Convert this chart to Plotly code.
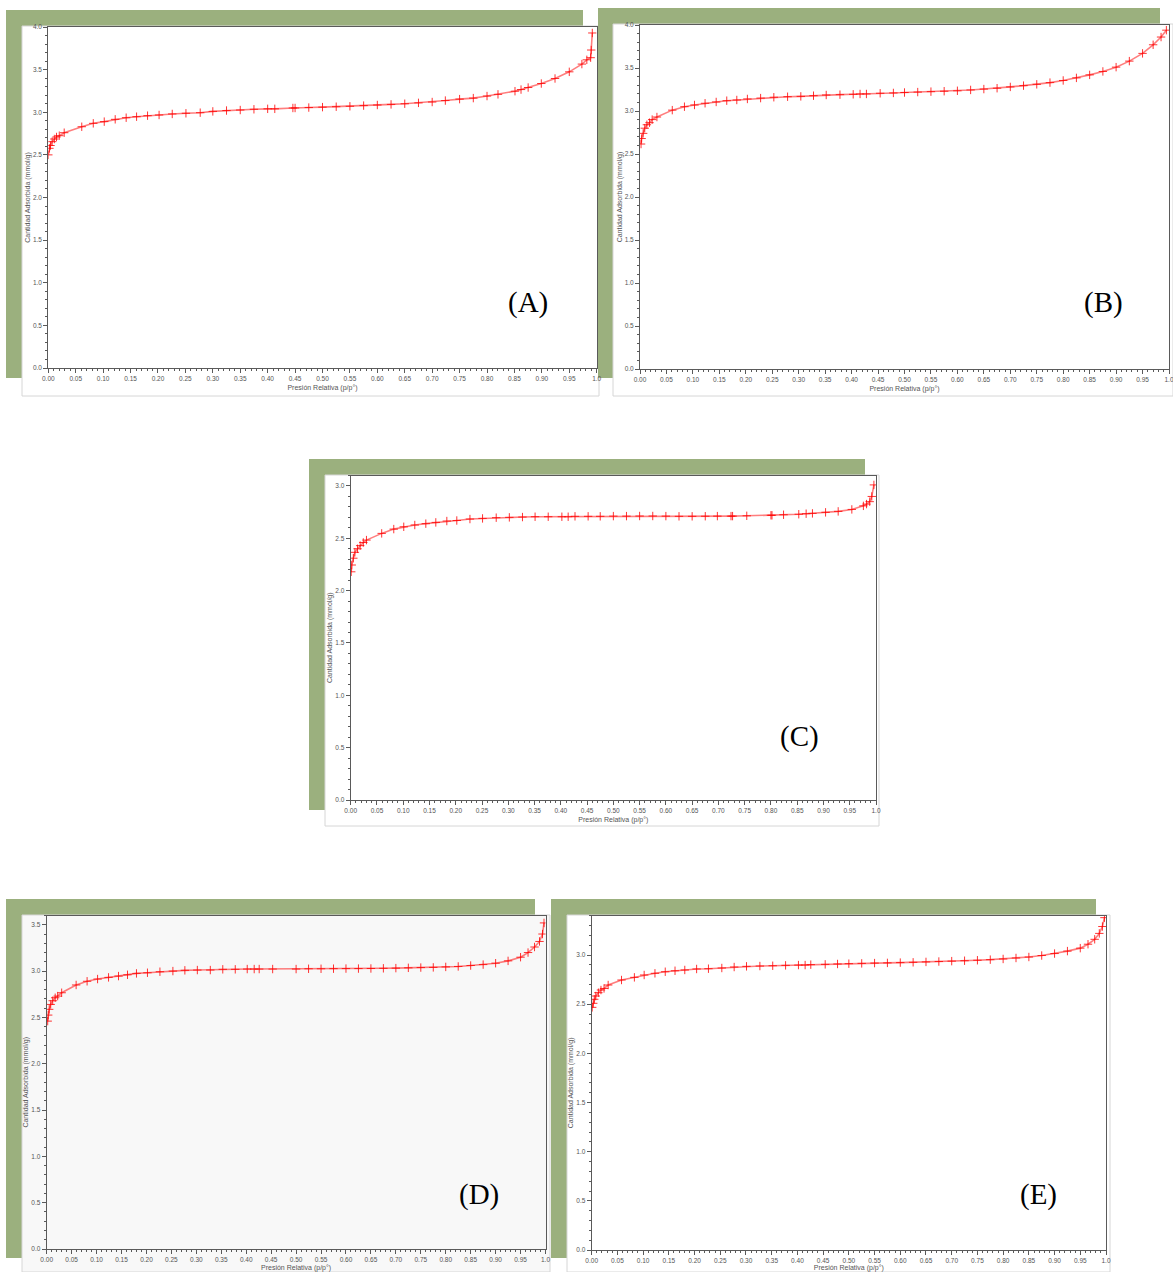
import plotly.graph_objects as go

# ---------------------------------------------------------------------------
# N2 adsorption isotherms, five samples (A)-(E)
# relative pressure p/p° and adsorbed quantity (mmol/g)
# ---------------------------------------------------------------------------
p_A = [0.000, 0.002, 0.004, 0.007, 0.011, 0.015, 0.020, 0.029, 0.061, 0.082,
       0.102, 0.122, 0.142, 0.161, 0.181, 0.202, 0.226, 0.251, 0.277, 0.300,
       0.325, 0.350, 0.375, 0.400, 0.413, 0.446, 0.450, 0.475, 0.500, 0.525,
       0.550, 0.575, 0.600, 0.625, 0.650, 0.675, 0.700, 0.724, 0.750, 0.775,
       0.800, 0.820, 0.851, 0.862, 0.875, 0.899, 0.924, 0.950, 0.973, 0.982,
       0.989, 0.990, 0.992]
q_A = [2.50, 2.577, 2.61, 2.655, 2.686, 2.71, 2.725, 2.76, 2.83, 2.87,
       2.89, 2.917, 2.936, 2.948, 2.96, 2.968, 2.98, 2.988, 2.995, 3.01,
       3.02, 3.026, 3.035, 3.04, 3.04, 3.05, 3.05, 3.055, 3.06, 3.065,
       3.07, 3.078, 3.085, 3.092, 3.10, 3.11, 3.12, 3.137, 3.154, 3.166,
       3.19, 3.21, 3.247, 3.266, 3.29, 3.337, 3.396, 3.474, 3.565, 3.615,
       3.64, 3.73, 3.93]

p_B = [0.002, 0.003, 0.006, 0.009, 0.013, 0.018, 0.023, 0.032, 0.061, 0.084,
       0.103, 0.123, 0.144, 0.164, 0.183, 0.203, 0.228, 0.253, 0.279, 0.304,
       0.328, 0.352, 0.378, 0.403, 0.416, 0.428, 0.454, 0.479, 0.500, 0.525,
       0.550, 0.575, 0.600, 0.625, 0.650, 0.675, 0.700, 0.725, 0.750, 0.775,
       0.800, 0.825, 0.850, 0.875, 0.900, 0.925, 0.950, 0.970, 0.985, 0.995]
q_B = [2.616, 2.68, 2.74, 2.80, 2.84, 2.864, 2.90, 2.93, 3.01, 3.05,
       3.07, 3.09, 3.105, 3.12, 3.128, 3.14, 3.15, 3.16, 3.166, 3.17,
       3.178, 3.186, 3.19, 3.194, 3.198, 3.198, 3.206, 3.21, 3.215, 3.22,
       3.225, 3.23, 3.235, 3.245, 3.255, 3.265, 3.28, 3.295, 3.31, 3.33,
       3.355, 3.385, 3.42, 3.46, 3.51, 3.58, 3.67, 3.77, 3.86, 3.94]

p_C = [0.001, 0.002, 0.005, 0.008, 0.013, 0.018, 0.024, 0.030, 0.059, 0.082,
       0.101, 0.122, 0.143, 0.162, 0.183, 0.202, 0.227, 0.251, 0.277, 0.302,
       0.327, 0.351, 0.376, 0.402, 0.414, 0.427, 0.452, 0.475, 0.500, 0.525,
       0.550, 0.575, 0.600, 0.625, 0.650, 0.675, 0.698, 0.724, 0.727, 0.754,
       0.800, 0.802, 0.824, 0.853, 0.867, 0.879, 0.904, 0.928, 0.954, 0.976,
       0.982, 0.988, 0.992, 0.996]
q_C = [2.18, 2.245, 2.31, 2.366, 2.40, 2.43, 2.46, 2.483, 2.547, 2.588,
       2.61, 2.627, 2.64, 2.652, 2.665, 2.67, 2.684, 2.69, 2.697, 2.70,
       2.703, 2.706, 2.706, 2.706, 2.706, 2.71, 2.71, 2.71, 2.712, 2.712,
       2.713, 2.713, 2.712, 2.71, 2.71, 2.711, 2.712, 2.712, 2.712, 2.715,
       2.72, 2.72, 2.725, 2.73, 2.735, 2.738, 2.748, 2.757, 2.776, 2.81,
       2.827, 2.85, 2.90, 3.01]

p_D = [0.002, 0.003, 0.005, 0.008, 0.012, 0.017, 0.022, 0.030, 0.059, 0.081,
       0.102, 0.124, 0.144, 0.162, 0.180, 0.202, 0.227, 0.253, 0.277, 0.302,
       0.328, 0.353, 0.378, 0.402, 0.416, 0.426, 0.453, 0.500, 0.525, 0.550,
       0.575, 0.600, 0.625, 0.650, 0.675, 0.700, 0.725, 0.750, 0.775, 0.800,
       0.825, 0.850, 0.875, 0.900, 0.925, 0.950, 0.965, 0.978, 0.988, 0.994,
       0.997]
q_D = [2.46, 2.525, 2.587, 2.64, 2.68, 2.712, 2.73, 2.766, 2.85, 2.89,
       2.914, 2.932, 2.946, 2.96, 2.975, 2.982, 2.993, 3.00, 3.008, 3.011,
       3.011, 3.019, 3.019, 3.022, 3.022, 3.022, 3.022, 3.022, 3.025, 3.025,
       3.026, 3.027, 3.027, 3.028, 3.03, 3.032, 3.035, 3.038, 3.04, 3.045,
       3.05, 3.06, 3.07, 3.085, 3.11, 3.15, 3.20, 3.26, 3.32, 3.40,
       3.52]

p_E = [0.001, 0.003, 0.005, 0.008, 0.013, 0.018, 0.024, 0.032, 0.058, 0.083,
       0.102, 0.123, 0.143, 0.162, 0.181, 0.204, 0.227, 0.253, 0.277, 0.301,
       0.327, 0.352, 0.377, 0.402, 0.415, 0.426, 0.454, 0.478, 0.500, 0.525,
       0.550, 0.575, 0.600, 0.625, 0.650, 0.675, 0.700, 0.725, 0.750, 0.775,
       0.800, 0.825, 0.850, 0.875, 0.900, 0.925, 0.950, 0.965, 0.978, 0.987,
       0.993, 0.997]
q_E = [2.468, 2.509, 2.55, 2.583, 2.617, 2.644, 2.66, 2.695, 2.746, 2.773,
       2.797, 2.814, 2.83, 2.84, 2.848, 2.858, 2.861, 2.868, 2.878, 2.885,
       2.888, 2.891, 2.895, 2.898, 2.898, 2.902, 2.905, 2.909, 2.912, 2.915,
       2.918, 2.92, 2.923, 2.926, 2.93, 2.934, 2.938, 2.942, 2.947, 2.953,
       2.96, 2.97, 2.98, 2.995, 3.015, 3.04, 3.07, 3.11, 3.16, 3.22,
       3.29, 3.38]

panel_labels = ["(A)", "(B)", "(C)", "(D)", "(E)"]
y_max = [4.0, 4.0, 3.1, 3.6, 3.4]

x_tick_text = ["0.00", "0.05", "0.10", "0.15", "0.20", "0.25", "0.30", "0.35",
               "0.40", "0.45", "0.50", "0.55", "0.60", "0.65", "0.70", "0.75",
               "0.80", "0.85", "0.90", "0.95", "1.0"]
x_title = "Presión Relativa (p/p°)"
y_title = "Cantidad Adsorbida (mmol/g)"

series = [(p_A, q_A), (p_B, q_B), (p_C, q_C), (p_D, q_D), (p_E, q_E)]

# ---------------------------------------------------------------------------
# page geometry in pixels (left, right, top, bottom)
# ---------------------------------------------------------------------------
W, H = 1173, 1272
frames = [
    # green frame, white card, plot area, label centre, card fill
    dict(green=(6, 583, 10, 378), card=(22, 599, 26, 396),
         plot=(48.3, 596.7, 27, 368), label=(528, 302), fill="#ffffff"),
    dict(green=(598, 1160, 8, 378), card=(613, 1173, 24, 396),
         plot=(640, 1169, 25, 369), label=(1103, 303), fill="#ffffff"),
    dict(green=(309, 865, 459, 810), card=(325, 879, 475, 826),
         plot=(350.7, 876, 475.5, 800), label=(799, 737), fill="#ffffff"),
    dict(green=(6, 535, 899, 1258), card=(22, 550, 915, 1272),
         plot=(46.7, 545.5, 915.5, 1249), label=(479, 1194), fill="#f8f8f8"),
    dict(green=(551, 1096, 899, 1258), card=(567, 1110, 915, 1272),
         plot=(591.7, 1106, 915.7, 1250), label=(1038, 1194), fill="#ffffff"),
]


def fx(px):
    return px / W


def fy(py):
    return 1 - py / H


GREEN = "#9bb07e"
AXIS = "#5a5a5a"
TICK_FONT = dict(family="Liberation Sans, Arial", size=6.5, color="#555555")
TITLE_FONT = dict(family="Liberation Sans, Arial", size=7, color="#555555")

fig = go.Figure()
shapes = []
annotations = []
layout_axes = {}

for i, ((p, q), fr) in enumerate(zip(series, frames), start=1):
    sfx = "" if i == 1 else str(i)

    gl, gr, gt, gb = fr["green"]
    shapes.append(dict(type="rect", xref="paper", yref="paper",
                       x0=fx(gl), x1=fx(gr), y0=fy(gb), y1=fy(gt),
                       fillcolor=GREEN, line=dict(width=0), layer="below"))
    cl, cr, ct, cb = fr["card"]
    shapes.append(dict(type="rect", xref="paper", yref="paper",
                       x0=fx(cl), x1=fx(cr), y0=fy(cb), y1=fy(ct),
                       fillcolor=fr["fill"], line=dict(color="#d6d6d6", width=1),
                       layer="below"))

    fig.add_trace(go.Scatter(
        x=p, y=q, mode="lines+markers",
        xaxis="x" + sfx, yaxis="y" + sfx,
        line=dict(color="rgba(255,40,40,0.6)", width=1.6),
        marker=dict(symbol="cross-thin", size=6,
                    line=dict(color="rgba(255,0,0,0.8)", width=1)),
        hoverinfo="skip", showlegend=False,
    ))

    pl, pr, pt, pb = fr["plot"]
    layout_axes["xaxis" + sfx] = dict(
        domain=[fx(pl), fx(pr)], anchor="y" + sfx, range=[0, 1],
        automargin=False, ticklabeloverflow="allow",
        showline=True, linecolor=AXIS, linewidth=1, mirror=True,
        ticks="outside", ticklen=4, tickwidth=1, tickcolor=AXIS,
        tickmode="array", tickvals=[k * 0.05 for k in range(len(x_tick_text))],
        ticktext=x_tick_text, tickfont=TICK_FONT, tickangle=0,
        minor=dict(tickmode="linear", tick0=0, dtick=0.01, ticks="outside",
                   ticklen=2, tickcolor=AXIS, showgrid=False),
        showgrid=False, zeroline=False,
        title=dict(text=x_title, font=TITLE_FONT, standoff=4),
    )
    layout_axes["yaxis" + sfx] = dict(
        domain=[fy(pb), fy(pt)], anchor="x" + sfx, range=[0, y_max[i - 1]],
        automargin=False, ticklabeloverflow="allow",
        showline=True, linecolor=AXIS, linewidth=1, mirror=True,
        ticks="outside", ticklen=4, tickwidth=1, tickcolor=AXIS,
        tickmode="linear", tick0=0, dtick=0.5, tickformat=".1f",
        tickfont=TICK_FONT,
        minor=dict(tickmode="linear", tick0=0, dtick=0.1, ticks="outside",
                   ticklen=2, tickcolor=AXIS, showgrid=False),
        showgrid=False, zeroline=False,
        title=dict(text=y_title, font=TITLE_FONT, standoff=1),
    )

    lx, ly = fr["label"]
    annotations.append(dict(
        text=panel_labels[i - 1], xref="paper", yref="paper",
        x=fx(lx), y=fy(ly), xanchor="center", yanchor="middle",
        showarrow=False,
        font=dict(family="Liberation Serif, Times New Roman", size=29, color="#000000"),
    ))

fig.update_layout(
    width=W, height=H,
    margin=dict(l=0, r=0, t=0, b=0, pad=0),
    paper_bgcolor="#ffffff", plot_bgcolor="rgba(0,0,0,0)",
    showlegend=False,
    shapes=shapes, annotations=annotations,
    **layout_axes,
)

fig.write_html("out.html")
